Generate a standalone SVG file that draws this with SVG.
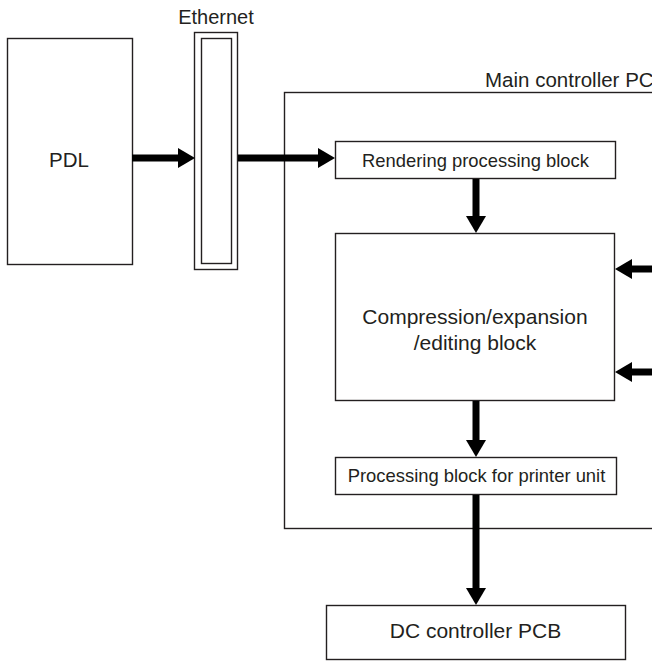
<svg xmlns="http://www.w3.org/2000/svg" width="652" height="661" viewBox="0 0 652 661">
<defs>
<style>
.box{fill:#fff;stroke:#231f20;stroke-width:1.4}
.frame{fill:none;stroke:#231f20;stroke-width:1.4}
.t{font-family:"Liberation Sans",Arial,sans-serif;fill:#231f20}
.shaft{stroke:#000;stroke-width:7;fill:none}
.head{fill:#000}
</style>
</defs>
<rect width="652" height="661" fill="#fff"/>
<g id="main-controller">
<rect class="frame" x="284.5" y="92.5" width="380" height="436"/>
<text class="t" x="485" y="87" font-size="20.5">Main controller PCB</text>
</g>
<g id="pdl">
<rect class="box" x="7.5" y="38.5" width="125" height="226"/>
<text class="t" x="69" y="167" font-size="20.5" text-anchor="middle">PDL</text>
</g>
<g id="ethernet">
<rect class="box" x="194.5" y="32.5" width="43" height="237"/>
<rect class="box" x="201.5" y="38.5" width="30" height="225"/>
<text class="t" x="216" y="24" font-size="20" text-anchor="middle">Ethernet</text>
</g>
<g id="rendering">
<rect class="box" x="335.5" y="141.5" width="280" height="37"/>
<text class="t" x="475.5" y="167" font-size="18.4" text-anchor="middle">Rendering processing block</text>
</g>
<g id="compression">
<rect class="box" x="335.5" y="233.5" width="279" height="167"/>
<text class="t" x="475" y="324" font-size="21" text-anchor="middle">Compression/expansion</text>
<text class="t" x="475" y="350" font-size="21" text-anchor="middle">/editing block</text>
</g>
<g id="printer-unit">
<rect class="box" x="335.5" y="457.5" width="281" height="37"/>
<text class="t" x="476.5" y="482" font-size="18.4" text-anchor="middle">Processing block for printer unit</text>
</g>
<g id="dc-controller">
<rect class="box" x="326.5" y="605.5" width="299" height="54"/>
<text class="t" x="475.5" y="638" font-size="21" text-anchor="middle">DC controller PCB</text>
</g>
<g id="connectors">
<line class="shaft" x1="132" y1="158" x2="179" y2="158"/>
<polygon class="head" points="178,148 195,158 178,168"/>
<line class="shaft" x1="238" y1="158" x2="319" y2="158"/>
<polygon class="head" points="318,148 335,158 318,168"/>
<line class="shaft" x1="476" y1="179" x2="476" y2="217"/>
<polygon class="head" points="466,216 476,233 486,216"/>
<line class="shaft" x1="476" y1="401" x2="476" y2="441"/>
<polygon class="head" points="466,440 476,457 486,440"/>
<line class="shaft" x1="476" y1="495" x2="476" y2="589"/>
<polygon class="head" points="466,588 476,605 486,588"/>
<line class="shaft" x1="652" y1="269" x2="631" y2="269"/>
<polygon class="head" points="632,259 615,269 632,279"/>
<line class="shaft" x1="652" y1="372" x2="631" y2="372"/>
<polygon class="head" points="632,362 615,372 632,382"/>
</g>
</svg>
